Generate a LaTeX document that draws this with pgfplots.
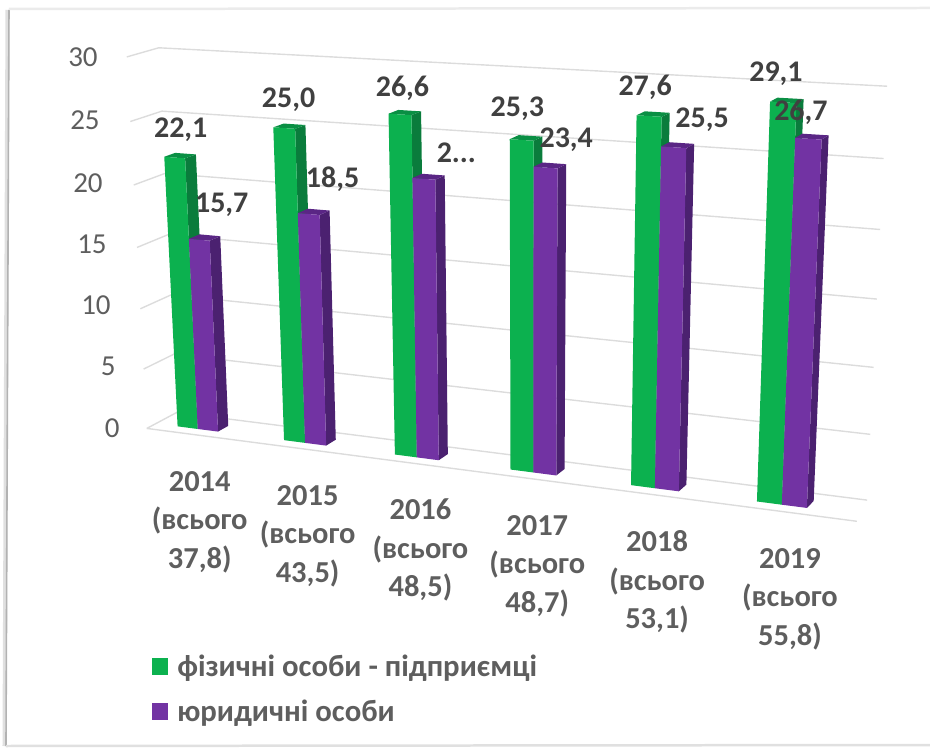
\documentclass[border=0pt]{standalone}
\usepackage{fontspec}
\setmainfont{Carlito}
\usepackage{pgfplots}
\usepackage{pgfplotstable}
\pgfplotsset{compat=1.18}
\definecolor{gfront}{HTML}{0CB14F}
\definecolor{gside}{HTML}{0A7C3C}
\definecolor{gtop}{HTML}{0A8F44}
\definecolor{pfront}{HTML}{7233A3}
\definecolor{pside}{HTML}{4B2170}
\definecolor{ptop}{HTML}{5A2685}
\definecolor{gridc}{HTML}{DCDCDC}
\definecolor{lab}{HTML}{404040}
\definecolor{cat}{HTML}{5E5E5E}
% values
\pgfplotstableread{
i year green purple
0 2014 22.1 15.7
1 2015 25.0 18.5
2 2016 26.6 21.9
3 2017 25.3 23.4
4 2018 27.6 25.5
5 2019 29.1 26.7
}\barsdata
% projection of the chart's 3D box (u along categories, v = value/30, d = depth) to the picture
\newcommand{\corner}[4]{%
  \pgfmathsetmacro{\tw}{1-.12*(#2)-.05*(#3)+.02*(#4)}%
  \expandafter\pgfmathsetmacro\csname #1x\endcsname{(147+608.04*(#2)-26.35*(#3)+33.54*(#4))/\tw}%
  \expandafter\pgfmathsetmacro\csname #1y\endcsname{(429+30.36*(#2)-374.85*(#3)-7.74*(#4)-3*(#2)*(#3))/\tw}%
}
\newcommand{\face}[1]{\addplot[fill=#1,draw=none,forget plot]}
\newcommand{\drawbar}[6]{% front side top uleft uright value
  \pgfmathsetmacro{\vv}{#6/30}%
  \corner{FLB}{#4}{0}{.3}\corner{FRB}{#5}{0}{.3}%
  \corner{FLT}{#4}{\vv}{.3}\corner{FRT}{#5}{\vv}{.3}%
  \corner{BRB}{#5}{0}{.65}\corner{BRT}{#5}{\vv}{.65}\corner{BLT}{#4}{\vv}{.65}%
  \face{#2} coordinates {(\FRBx,\FRBy)(\BRBx,\BRBy)(\BRTx,\BRTy)(\FRTx,\FRTy)(\FRBx,\FRBy)};
  \face{#3} coordinates {(\FLTx,\FLTy)(\FRTx,\FRTy)(\BRTx,\BRTy)(\BLTx,\BLTy)(\FLTx,\FLTy)};
  \face{#1} coordinates {(\FLBx,\FLBy)(\FRBx,\FRBy)(\FRTx,\FRTy)(\FLTx,\FLTy)(\FLBx,\FLBy)};
}
\begin{document}
\begin{tikzpicture}
\begin{axis}[
  scale only axis, width=931pt, height=749pt,
  xmin=0, xmax=931, ymin=0, ymax=749, y dir=reverse,
  axis lines=none, clip=false,
  legend style={at={(axis cs:152,654)}, anchor=north west, draw=none, fill=none,
    inner sep=0pt, outer sep=0pt,
    font=\fontsize{30.8}{34}\selectfont\bfseries, text=cat, row sep=18pt,
    /tikz/every odd column/.append style={column sep=7.5pt}},
  legend cell align=left,
  legend image code/.code={\fill[#1] (0pt,-8.5pt) rectangle (16pt,8.5pt);},
]
\path (axis cs:0,0) rectangle (axis cs:931,749);
% grid lines
\pgfplotsinvokeforeach{0,5,10,15,20,25,30}{
  \pgfmathsetmacro{\gv}{#1/30}
  \corner{A}{0}{\gv}{0}\corner{B}{0}{\gv}{1}\corner{C}{.99}{\gv}{1}
  \addplot[gridc,line width=1.4pt,forget plot] coordinates {(\Ax,\Ay)(\Bx,\By)(\Cx,\Cy)};
}
\corner{A}{0}{0}{0}\corner{B}{1}{0}{0}
\addplot[gridc,line width=1.4pt,forget plot] coordinates {(\Ax,\Ay)(\Bx,\By)};
% bars
\pgfplotsinvokeforeach{0,...,5}{
  \pgfplotstablegetelem{#1}{green}\of\barsdata \let\vg\pgfplotsretval
  \pgfplotstablegetelem{#1}{purple}\of\barsdata \let\vp\pgfplotsretval
  \pgfmathsetmacro{\um}{.0667+.1663*#1}
  \pgfmathsetmacro{\ul}{\um-.032}
  \pgfmathsetmacro{\ur}{\um+.032}
  \drawbar{gfront}{gside}{gtop}{\ul}{\um}{\vg}
  \drawbar{pfront}{pside}{ptop}{\um}{\ur}{\vp}
}
% legend
\addlegendimage{draw=none,fill=gfront}
\addlegendentry{фізичні особи - підприємці}
\addlegendimage{draw=none,fill=pfront}
\addlegendentry{юридичні особи}
% frame
\draw[black!12,line width=4pt] (axis cs:7.5,10) -- (axis cs:4.5,747);
\draw[black!30,line width=1.6pt] (axis cs:9,10) -- (axis cs:6,747);
\draw[black!12,line width=2.5pt] (axis cs:6,747) -- (axis cs:931,746);
\draw[black!8,line width=2.5pt] (axis cs:9,9) -- (axis cs:931,8);
% value axis labels
\begin{scope}[every node/.style={font=\fontsize{29}{32}\selectfont,text=cat,anchor=east,inner sep=0pt}]
\node at (axis cs:98,57) {30};
\node at (axis cs:100,120) {25};
\node at (axis cs:103,183) {20};
\node at (axis cs:107,245) {15};
\node at (axis cs:111,306) {10};
\node at (axis cs:116,367) {5};
\node at (axis cs:120,429) {0};
\end{scope}
% value labels
\begin{scope}[every node/.style={font=\fontsize{30}{32}\selectfont\bfseries,text=lab,inner sep=0pt}]
\node at (axis cs:181,130) {22,1};
\node at (axis cs:222,205) {15,7};
\node at (axis cs:289,100) {25,0};
\node at (axis cs:333,179) {18,5};
\node at (axis cs:403,88) {26,6};
\node at (axis cs:457,153) {2...};
\node at (axis cs:518,109) {25,3};
\node at (axis cs:567,140) {23,4};
\node at (axis cs:646,87) {27,6};
\node at (axis cs:703,120) {25,5};
\node at (axis cs:777,74) {29,1};
\node at (axis cs:802,112) {26,7};
\end{scope}
% category labels
\begin{scope}[every node/.style={font=\fontsize{30.5}{38.5}\selectfont\bfseries,text=cat,inner sep=0pt,align=center}]
\node at (axis cs:200,523) {2014\\(всього\\37,8)};
\node at (axis cs:308,537) {2015\\(всього\\43,5)};
\node at (axis cs:421,551) {2016\\(всього\\48,5)};
\node at (axis cs:538,567) {2017\\(всього\\48,7)};
\node at (axis cs:658,583) {2018\\(всього\\53,1)};
\node at (axis cs:791,600) {2019\\(всього\\55,8)};
\end{scope}
\end{axis}
\end{tikzpicture}
\end{document}
